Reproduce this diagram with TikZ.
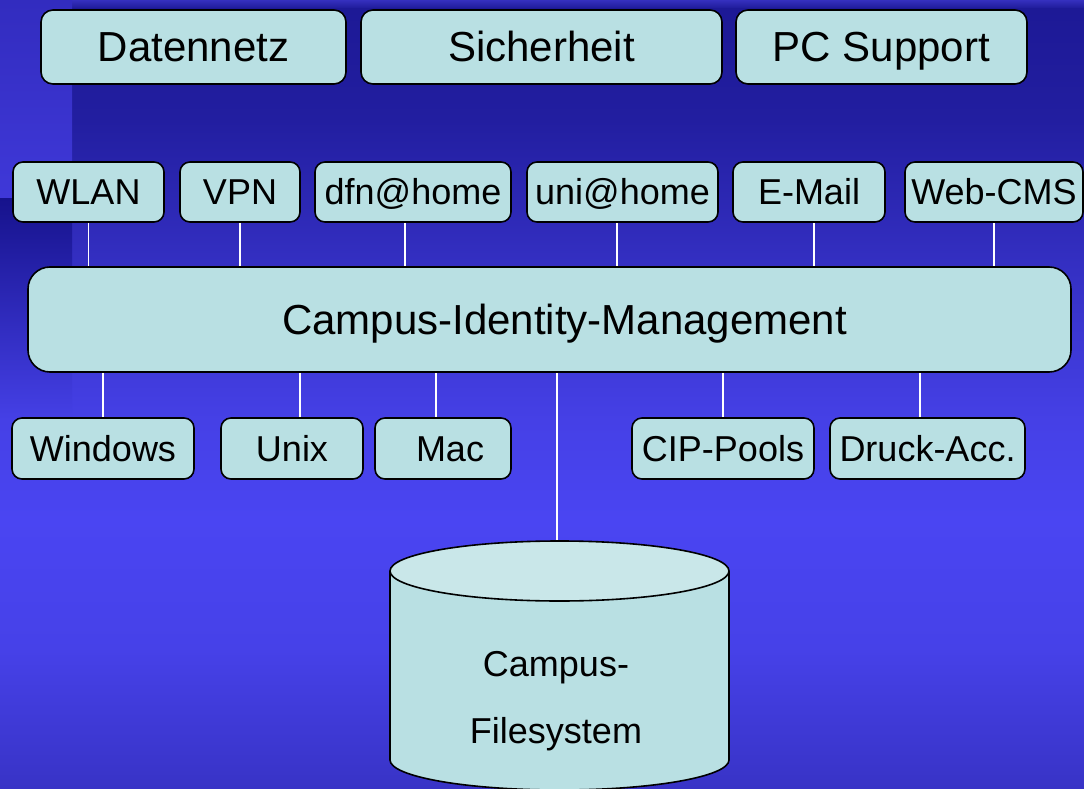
\documentclass[tikz,border=0pt]{standalone}
\usepackage{fontspec}
\setmainfont{Liberation Sans}
\definecolor{boxfill}{HTML}{B9E0E3}
\definecolor{cyltop}{HTML}{C9E7E9}
\definecolor{bgTop}{HTML}{3530BE}
\definecolor{bgA}{HTML}{1D1996}
\definecolor{bgB}{HTML}{221EA0}
\definecolor{bgC}{HTML}{3631C6}
\definecolor{bgD}{HTML}{4540E6}
\definecolor{bgE}{HTML}{4A45F2}
\definecolor{bgF}{HTML}{4641E8}
\definecolor{bgG}{HTML}{3833C6}
\definecolor{stripA}{HTML}{322CBF}
\definecolor{stripB}{HTML}{3F38D8}
\definecolor{stripC}{HTML}{16128C}
\pgfdeclarelayer{back}
\pgfdeclarelayer{links}
\pgfsetlayers{back,links,main}
\begin{document}
\begin{tikzpicture}[x=1pt,y=-1pt,
  box/.style={draw=black, line width=1.6pt, fill=boxfill, rounded corners=10pt,
    inner sep=0pt, text height=25.8pt, text depth=0pt,
    font=\fontsize{36}{40}\selectfont},
  bigbox/.style={box, rounded corners=12pt, text height=30pt, font=\fontsize{42}{48}\selectfont},
  hubbox/.style={box, rounded corners=22pt, text height=30pt, font=\fontsize{42}{48}\selectfont},
  link/.style={draw=white, line width=1.5pt},
  cyltext/.style={anchor=base, inner sep=0pt, font=\fontsize{36}{40}\selectfont}]
\useasboundingbox (0,0) rectangle (1084,789);

% background bands
\begin{pgfonlayer}{back}
  \shade[top color=bgTop, bottom color=bgA] (0,0) rectangle (1084,9);
  \shade[top color=bgA, bottom color=bgB] (0,9) rectangle (1084,120);
  \shade[top color=bgB, bottom color=bgC] (0,120) rectangle (1084,280);
  \shade[top color=bgC, bottom color=bgD] (0,280) rectangle (1084,420);
  \shade[top color=bgD, bottom color=bgE] (0,420) rectangle (1084,520);
  \shade[top color=bgE, bottom color=bgF] (0,520) rectangle (1084,650);
  \shade[top color=bgF, bottom color=bgG] (0,650) rectangle (1084,789);
  % left edge strip
  \shade[top color=stripA, bottom color=stripB] (0,0) rectangle (72,198);
  \shade[top color=stripC, bottom color=bgD] (0,198) rectangle (72,420);
\end{pgfonlayer}

% top row
\node[bigbox, minimum width=305, minimum height=74] (datennetz) at (193.5,47) {Datennetz};
\node[bigbox, minimum width=361, minimum height=74] (sicherheit) at (541.5,47) {Sicherheit};
\node[bigbox, minimum width=291, minimum height=74] (pcsupport) at (881.5,47) {PC Support};

% services
\node[box, minimum width=151, minimum height=60] (wlan) at (88.5,192) {WLAN};
\node[box, minimum width=120, minimum height=60] (vpn) at (240,192) {VPN};
\node[box, minimum width=196, minimum height=60] (dfn) at (413,192) {dfn@home};
\node[box, minimum width=191, minimum height=60] (uni) at (622.5,192) {uni@home};
\node[box, minimum width=152, minimum height=60] (email) at (809,192) {E-Mail};
\node[box, minimum width=178, minimum height=60] (webcms) at (994,192) {Web-CMS};

% identity management
\node[hubbox, minimum width=1043, minimum height=105] (cim) at (549.5,319.5) {\hspace{30pt}Campus-Identity-Management};

% systems
\node[box, minimum width=182, minimum height=61] (windows) at (103,448.5) {Windows};
\node[box, minimum width=142, minimum height=61] (unix) at (292,448.5) {Unix};
\node[box, minimum width=136, minimum height=61] (mac) at (443,448.5) {\hspace{14pt}Mac};
\node[box, minimum width=182, minimum height=61] (cip) at (723,448.5) {CIP-Pools};
\node[box, minimum width=195, minimum height=61] (druck) at (927.5,448.5) {Druck-Acc.};

% file system drum
\fill[boxfill] (390,571) -- (390,760) arc[start angle=180, end angle=360, x radius=169.5pt, y radius=30pt] -- (729,571) -- cycle;
\draw[line width=1.6pt] (390,571) -- (390,760) arc[start angle=180, end angle=360, x radius=169.5pt, y radius=30pt] -- (729,571);
\draw[line width=1.6pt, fill=cyltop] (559.5,571) ellipse [x radius=169.5pt, y radius=30pt];
\coordinate (fstop) at (557,541);
\node[cyltext] (fs) at (556,676) {Campus-};
\node[cyltext] (fs2) at (556,743) {Filesystem};

% connectors
\begin{pgfonlayer}{links}
  \draw[link] (wlan.south) -- (wlan.south |- cim.north);
  \draw[link] (vpn.south) -- (vpn.south |- cim.north);
  \draw[link] ([xshift=-8pt]dfn.south) -- ([xshift=-8pt]dfn.south |- cim.north);
  \draw[link] ([xshift=-5.5pt]uni.south) -- ([xshift=-5.5pt]uni.south |- cim.north);
  \draw[link] ([xshift=5pt]email.south) -- ([xshift=5pt]email.south |- cim.north);
  \draw[link] (webcms.south) -- (webcms.south |- cim.north);
  \draw[link] (windows.north) -- (windows.north |- cim.south);
  \draw[link] ([xshift=8pt]unix.north) -- ([xshift=8pt]unix.north |- cim.south);
  \draw[link] ([xshift=-7pt]mac.north) -- ([xshift=-7pt]mac.north |- cim.south);
  \draw[link] (cip.north) -- (cip.north |- cim.south);
  \draw[link] ([xshift=-7.5pt]druck.north) -- ([xshift=-7.5pt]druck.north |- cim.south);
  \draw[link] (cim.south -| fstop) -- (fstop);
\end{pgfonlayer}
\end{tikzpicture}
\end{document}
